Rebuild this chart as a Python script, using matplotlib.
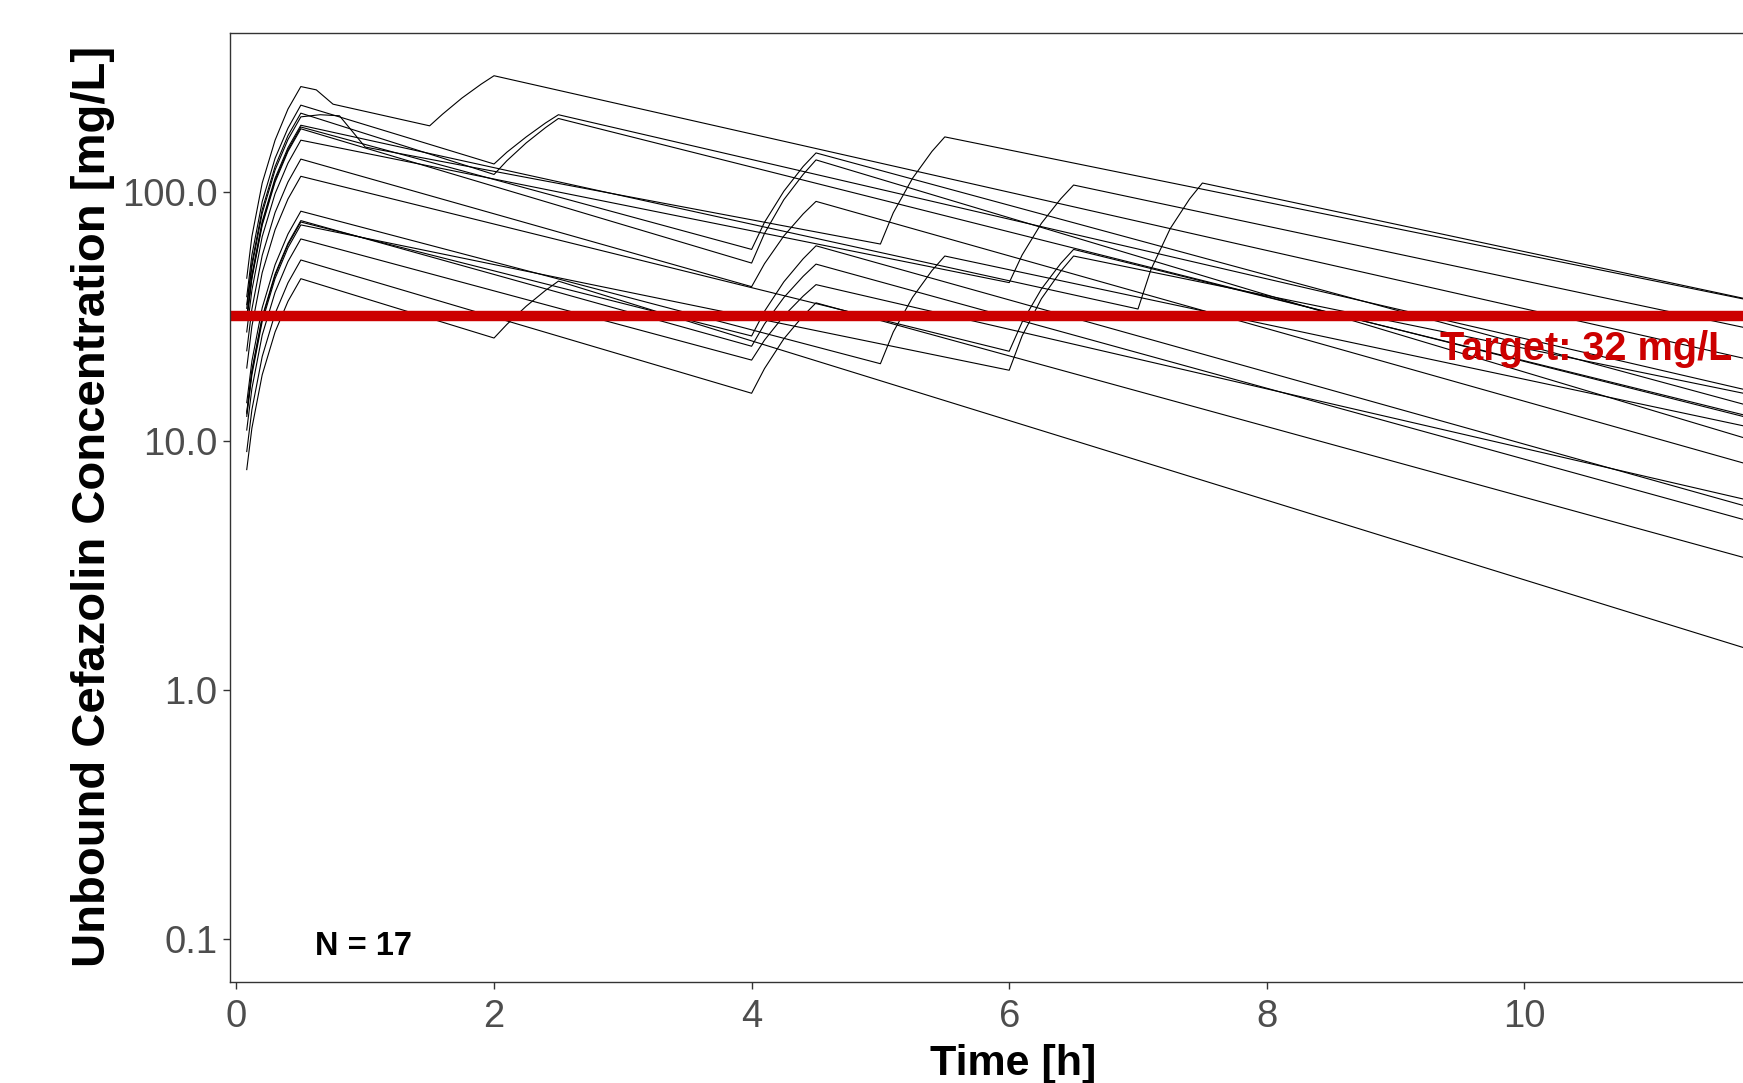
import matplotlib.pyplot as plt

# Simulated unbound cefazolin concentrations, 17 patients.
# Each patient: time points [h] and concentrations [mg/L].
pt01_t = [0.08, 0.12, 0.2, 0.3, 0.4, 0.5, 0.62, 0.75, 1.5, 1.6, 1.75, 1.9, 2.0, 12.0]
pt01_c = [45.2, 66.5, 109, 162, 216, 266, 258, 226, 185, 206, 239, 272, 294, 19.9]

pt02_t = [0.08, 0.12, 0.2, 0.3, 0.4, 0.5, 2.0, 2.1, 2.25, 2.4, 2.5, 12.0]
pt02_c = [38.1, 56, 91.8, 137, 181, 224, 130, 145, 167, 190, 205, 14.9]

pt03_t = [0.08, 0.12, 0.2, 0.3, 0.4, 0.5, 2.0, 2.1, 2.25, 2.4, 2.5, 12.0]
pt03_c = [35.4, 52, 85.3, 127, 169, 208, 118, 134, 158, 182, 198, 11.5]

pt04_t = [0.08, 0.12, 0.2, 0.3, 0.4, 0.5, 0.65, 0.8, 1.0, 5.0, 5.1, 5.25, 5.4, 5.5, 12.0]
pt04_c = [34.2, 50.3, 82.4, 123, 163, 201, 205, 203, 152, 62, 82.8, 114, 146, 167, 34.7]

pt05_t = [0.08, 0.12, 0.2, 0.3, 0.4, 0.5, 4.0, 4.1, 4.25, 4.4, 4.5, 12.0]
pt05_c = [31.1, 45.8, 75, 112, 148, 183, 59, 75.8, 101, 127, 144, 12.8]

pt06_t = [0.08, 0.12, 0.2, 0.3, 0.4, 0.5, 4.0, 4.1, 4.25, 4.4, 4.5, 12.0]
pt06_c = [30.6, 45, 73.8, 110, 146, 180, 52, 68.4, 93.4, 118, 135, 9.3]

pt07_t = [0.08, 0.12, 0.2, 0.3, 0.4, 0.5, 7.0, 7.1, 7.25, 7.4, 7.5, 12.0]
pt07_c = [31.6, 46.5, 76.3, 114, 151, 186, 34, 48.9, 71.5, 94, 109, 34.8]

pt08_t = [0.08, 0.12, 0.2, 0.3, 0.4, 0.5, 6.0, 6.1, 6.25, 6.4, 6.5, 12.0]
pt08_c = [27.5, 40.5, 66.4, 98.8, 131, 162, 43.4, 56, 75.1, 94.2, 107, 26.6]

pt09_t = [0.08, 0.12, 0.2, 0.3, 0.4, 0.5, 4.0, 4.1, 4.25, 4.4, 4.5, 12.0]
pt09_c = [23.1, 34, 55.8, 83, 110, 136, 41.8, 51.7, 66.8, 81.9, 92, 7.4]

pt10_t = [0.08, 0.12, 0.2, 0.3, 0.4, 0.5, 6.0, 6.1, 6.25, 6.4, 6.5, 12.0]
pt10_c = [19.7, 29, 47.6, 70.8, 94, 116, 23, 30.1, 40.9, 51.8, 59, 11.7]

pt11_t = [0.08, 0.12, 0.2, 0.3, 0.4, 0.5, 5.0, 5.1, 5.25, 5.4, 5.5, 12.0]
pt11_c = [14.3, 21, 34.4, 51.2, 68, 84, 20.5, 27.5, 37.9, 48.5, 55.5, 10.7]

pt12_t = [0.08, 0.12, 0.2, 0.3, 0.4, 0.5, 4.0, 4.1, 4.25, 4.4, 4.5, 12.0]
pt12_c = [12.9, 19, 31.2, 46.4, 61.6, 76, 26.5, 33.3, 43.7, 54.1, 61, 5.0]

pt13_t = [0.08, 0.12, 0.2, 0.3, 0.4, 0.5, 4.0, 4.1, 4.25, 4.4, 4.5, 12.0]
pt13_c = [13.1, 19.3, 31.6, 47, 62.4, 77, 24.1, 29.6, 37.8, 46, 51.5, 4.4]

pt14_t = [0.08, 0.12, 0.2, 0.3, 0.4, 0.5, 6.0, 6.1, 6.25, 6.4, 6.5, 12.0]
pt14_c = [12.6, 18.5, 30.3, 45.1, 59.9, 74, 19.3, 26.5, 37.4, 48.2, 55.5, 14.5]

pt15_t = [0.08, 0.12, 0.2, 0.3, 0.4, 0.5, 4.0, 4.1, 4.25, 4.4, 4.5, 12.0]
pt15_c = [11.1, 16.3, 26.7, 39.7, 52.7, 65, 21.2, 25.5, 31.9, 38.3, 42.6, 5.4]

pt16_t = [0.08, 0.12, 0.2, 0.3, 0.4, 0.5, 4.0, 4.1, 4.25, 4.4, 4.5, 12.0]
pt16_c = [9.1, 13.4, 21.9, 32.6, 43.3, 53.5, 15.6, 19.6, 25.8, 31.9, 36, 3.1]

pt17_t = [0.08, 0.12, 0.2, 0.3, 0.4, 0.5, 2.0, 2.1, 2.25, 2.4, 2.5, 12.0]
pt17_c = [7.7, 11.3, 18.5, 27.5, 36.5, 45, 26, 29.5, 34.9, 40.4, 44, 1.33]

TARGET = 32
N_PATIENTS = 17
x_ticks = [0, 2, 4, 6, 8, 10]
y_ticks = [0.1, 1, 10, 100]
y_tick_labels = ["0.1", "1.0", "10.0", "100.0"]

patients = [
    (pt01_t, pt01_c), (pt02_t, pt02_c), (pt03_t, pt03_c), (pt04_t, pt04_c),
    (pt05_t, pt05_c), (pt06_t, pt06_c), (pt07_t, pt07_c), (pt08_t, pt08_c),
    (pt09_t, pt09_c), (pt10_t, pt10_c), (pt11_t, pt11_c), (pt12_t, pt12_c),
    (pt13_t, pt13_c), (pt14_t, pt14_c), (pt15_t, pt15_c), (pt16_t, pt16_c),
    (pt17_t, pt17_c),
]

plt.rcParams["font.family"] = ["Liberation Sans", "DejaVu Sans"]

W, H = 1743, 1083
fig = plt.figure(figsize=(W / 100, H / 100), dpi=100)
# panel runs past the right edge of the picture, as in the original export
ax = fig.add_axes([230 / W, 1 - 982 / H, (1800 - 230) / W, (982 - 33) / H])

for t, c in patients:
    ax.plot(t, c, color="black", lw=0.8)

ax.axhline(TARGET, color="#CC0000", lw=7.5)
ax.text(9.344, 21.2, f"Target: {TARGET} mg/L", color="#CC0000", fontsize=28.5,
        fontweight="bold", ha="left", va="baseline")
ax.text(0.61, 0.0865, f"N = {N_PATIENTS}", fontsize=23.5, fontweight="bold",
        ha="left", va="baseline")

ax.set_yscale("log")
ax.set_xlim(-0.05, 12.14)
ax.set_ylim(0.0674, 436.5)
ax.set_xticks(x_ticks)
ax.set_xticklabels([str(v) for v in x_ticks])
ax.set_yticks(y_ticks)
ax.set_yticklabels(y_tick_labels)
ax.minorticks_off()
ax.tick_params(length=5, width=1, color="#333333", labelcolor="#4D4D4D",
               labelsize=27.5)
ax.tick_params(axis="y", pad=4)
ax.tick_params(axis="x", pad=7)
for sp in ax.spines.values():
    sp.set_color("#333333")
    sp.set_linewidth(1.0)

fig.text(1013 / W, 1 - 1075 / H, "Time [h]", fontsize=31, fontweight="bold",
         ha="center", va="baseline")
fig.text(93 / W, 1 - 506 / H, "Unbound Cefazolin Concentration [mg/L]",
         fontsize=34, fontweight="bold", rotation=90, ha="center", va="center")

fig.savefig("out.png", dpi=100)
